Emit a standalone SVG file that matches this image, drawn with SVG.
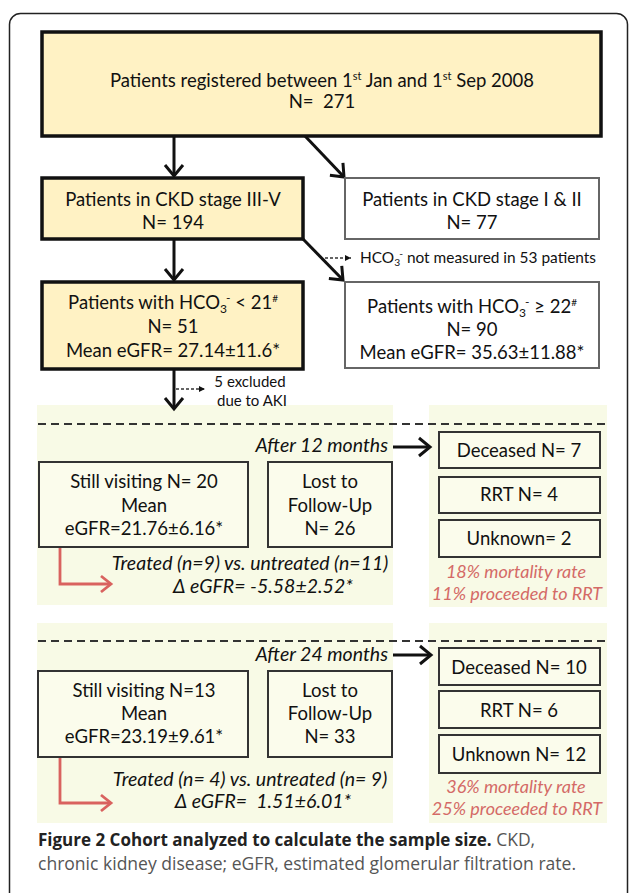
<svg xmlns="http://www.w3.org/2000/svg" width="629" height="893" viewBox="0 0 629 893">
<defs>
<style>
.t{font-family:Lato,"Liberation Sans",sans-serif;font-size:18.5px;fill:#111;text-anchor:middle}
.s{font-family:Lato,"Liberation Sans",sans-serif;font-size:15px;fill:#111}
.i{font-family:Lato,"Liberation Sans",sans-serif;font-size:19.5px;font-style:italic;fill:#111}
.r{font-family:Lato,"Liberation Sans",sans-serif;font-size:18px;font-style:italic;fill:#D46A66;text-anchor:middle}
.yb{fill:#FFF2C4;stroke:#111;stroke-width:3.5}
.wb{fill:#fff;stroke:#666;stroke-width:2}
.pb{fill:#FBFCEC;stroke:#333;stroke-width:2}
.panel{fill:#F8FAE6}
.arr{stroke:#111;stroke-width:3;fill:none;marker-end:url(#ah)}
.dash{stroke:#333;stroke-width:1.3;fill:none;stroke-dasharray:3 2;marker-end:url(#sh)}
.sep{stroke:#333;stroke-width:1.8;stroke-dasharray:8 5;fill:none}
.red{stroke:#D9625F;stroke-width:2.8;fill:none;marker-end:url(#rh)}
.cap{font-family:"Open Sans","Liberation Sans",sans-serif;font-size:17.5px;fill:#555}
</style>
<marker id="ah" markerUnits="userSpaceOnUse" markerWidth="24" markerHeight="24" refX="12" refY="12" orient="auto" overflow="visible">
<path d="M1,3 L12,12 L1,21" fill="none" stroke="#111" stroke-width="3"/>
</marker>
<marker id="sh" markerUnits="userSpaceOnUse" markerWidth="10" markerHeight="10" refX="6" refY="5" orient="auto" overflow="visible">
<path d="M0,2 L6,5 L0,8 Z" fill="#111"/>
</marker>
<marker id="rh" markerUnits="userSpaceOnUse" markerWidth="24" markerHeight="24" refX="12" refY="12" orient="auto" overflow="visible">
<path d="M2,4 L12,12 L2,20" fill="none" stroke="#D9625F" stroke-width="2.8"/>
</marker>
</defs>
<rect x="9.5" y="13.5" width="618" height="900" rx="11" fill="#fff" stroke="#222" stroke-width="1.5"/>

<g id="panels">
<rect class="panel" x="37" y="405" width="356" height="200"/>
<rect class="panel" x="429" y="405" width="178" height="202"/>
<rect class="panel" x="37" y="623" width="356" height="200"/>
<rect class="panel" x="429" y="623" width="178" height="200"/>
<line class="sep" x1="38" y1="424" x2="607" y2="424"/>
<line class="sep" x1="38" y1="641" x2="607" y2="641"/>
</g>

<g id="connectors">
<line class="arr" x1="174" y1="136" x2="174" y2="176"/>
<line class="arr" x1="305" y1="136" x2="344" y2="177"/>
<line class="arr" x1="174" y1="239" x2="174" y2="280"/>
<line class="arr" x1="303" y1="239" x2="343" y2="280"/>
<line class="arr" x1="174" y1="369" x2="174" y2="409"/>
<line class="dash" x1="325" y1="258" x2="351" y2="258"/>
<line class="dash" x1="176" y1="389" x2="205" y2="389"/>
<line class="arr" x1="393" y1="447" x2="430" y2="447"/>
<line class="arr" x1="393" y1="655" x2="431" y2="655"/>
<path class="red" d="M60,547 V584 H111"/>
<path class="red" d="M60,757 V803 H111"/>
</g>

<g id="n_registered">
<rect class="yb" x="42" y="32" width="559" height="104"/>
<text class="t" x="322" y="87">Patients registered between 1<tspan font-size="11" dy="-7">st</tspan><tspan dy="7"> Jan and 1</tspan><tspan font-size="11" dy="-7">st</tspan><tspan dy="7"> Sep 2008</tspan></text>
<text class="t" x="322" y="108">N=&#160; 271</text>
</g>

<g id="n_ckd35">
<rect class="yb" x="42" y="178" width="261" height="61"/>
<text class="t" x="173" y="206">Patients in CKD stage III-V</text>
<text class="t" x="173" y="229">N= 194</text>
</g>

<g id="n_ckd12">
<rect class="wb" x="345" y="178" width="254" height="61"/>
<text class="t" x="472" y="206">Patients in CKD stage I &amp; II</text>
<text class="t" x="472" y="229">N= 77</text>
</g>

<g id="n_notmeasured">
<text class="s" x="360" y="263" textLength="236" lengthAdjust="spacingAndGlyphs">HCO<tspan font-size="10" dy="3">3</tspan><tspan font-size="10" dx="-1" dy="-9">-</tspan><tspan dy="6"> not measured in 53 patients</tspan></text>
</g>

<g id="n_low">
<rect class="yb" x="42" y="282" width="261" height="87"/>
<text class="t" x="173" y="309">Patients with HCO<tspan font-size="12" dy="4">3</tspan><tspan font-size="12" dx="-1" dy="-11">-</tspan><tspan dy="7"> &lt; 21</tspan><tspan font-size="10" dy="-7">#</tspan></text>
<text class="t" x="173" y="333">N= 51</text>
<text class="t" x="173" y="357">Mean eGFR= 27.14±11.6*</text>
</g>

<g id="n_high">
<rect class="wb" x="345" y="282" width="254" height="86"/>
<text class="t" x="472" y="313">Patients with HCO<tspan font-size="12" dy="4">3</tspan><tspan font-size="12" dx="-1" dy="-11">-</tspan><tspan dy="7"> ≥ 22</tspan><tspan font-size="10" dy="-7">#</tspan></text>
<text class="t" x="472" y="336">N= 90</text>
<text class="t" x="472" y="359">Mean eGFR= 35.63±11.88*</text>
</g>

<g id="n_excluded">
<text class="s" x="250" y="387" text-anchor="middle">5 excluded</text>
<text class="s" x="252" y="406" text-anchor="middle">due to AKI</text>
</g>

<g id="n_after12">
<text class="i" x="388" y="452" text-anchor="end">After 12 months</text>
</g>

<g id="n_visit12">
<rect class="pb" x="39" y="462" width="209" height="85"/>
<text class="t" x="144" y="488">Still visiting N= 20</text>
<text class="t" x="144" y="512">Mean</text>
<text class="t" x="144" y="535">eGFR=21.76±6.16*</text>
</g>

<g id="n_lost12">
<rect class="pb" x="268" y="462" width="124" height="85"/>
<text class="t" x="330" y="488">Lost to</text>
<text class="t" x="330" y="512">Follow-Up</text>
<text class="t" x="330" y="535">N= 26</text>
</g>

<g id="n_treated12">
<text class="i" x="250" y="570" text-anchor="middle">Treated (n=9) vs. untreated (n=11)</text>
<text class="i" x="263" y="593" text-anchor="middle">Δ eGFR= -5.58±2.52*</text>
</g>

<g id="n_dec12">
<rect class="pb" x="439" y="432" width="161" height="36"/>
<text class="t" x="519" y="457">Deceased N= 7</text>
</g>
<g id="n_rrt12">
<rect class="pb" x="439" y="477" width="161" height="36"/>
<text class="t" x="519" y="501">RRT N= 4</text>
</g>
<g id="n_unk12">
<rect class="pb" x="439" y="520" width="161" height="37"/>
<text class="t" x="519" y="545">Unknown= 2</text>
</g>
<g id="n_rate12">
<text class="r" x="516" y="578">18% mortality rate</text>
<text class="r" x="517" y="600">11% proceeded to RRT</text>
</g>

<g id="n_after24">
<text class="i" x="388" y="661" text-anchor="end">After 24 months</text>
</g>

<g id="n_visit24">
<rect class="pb" x="38" y="671" width="210" height="86"/>
<text class="t" x="144" y="697">Still visiting N=13</text>
<text class="t" x="144" y="720">Mean</text>
<text class="t" x="144" y="743">eGFR=23.19±9.61*</text>
</g>

<g id="n_lost24">
<rect class="pb" x="268" y="671" width="124" height="86"/>
<text class="t" x="330" y="697">Lost to</text>
<text class="t" x="330" y="720">Follow-Up</text>
<text class="t" x="330" y="743">N= 33</text>
</g>

<g id="n_treated24">
<text class="i" x="250" y="786" text-anchor="middle">Treated (n= 4) vs. untreated (n= 9)</text>
<text class="i" x="263" y="808" text-anchor="middle">Δ eGFR=&#160; 1.51±6.01*</text>
</g>

<g id="n_dec24">
<rect class="pb" x="439" y="648" width="161" height="37"/>
<text class="t" x="519" y="674">Deceased N= 10</text>
</g>
<g id="n_rrt24">
<rect class="pb" x="439" y="691" width="161" height="37"/>
<text class="t" x="519" y="717">RRT N= 6</text>
</g>
<g id="n_unk24">
<rect class="pb" x="439" y="735" width="161" height="38"/>
<text class="t" x="519" y="761">Unknown N= 12</text>
</g>
<g id="n_rate24">
<text class="r" x="516" y="793">36% mortality rate</text>
<text class="r" x="517" y="815">25% proceeded to RRT</text>
</g>

<g id="caption">
<text class="cap" x="38" y="846"><tspan font-weight="bold" fill="#222" font-size="17px">Figure 2 Cohort analyzed to calculate the sample size.</tspan> CKD,</text>
<text class="cap" x="38" y="870" textLength="538" lengthAdjust="spacingAndGlyphs">chronic kidney disease; eGFR, estimated glomerular filtration rate.</text>
</g>
</svg>
